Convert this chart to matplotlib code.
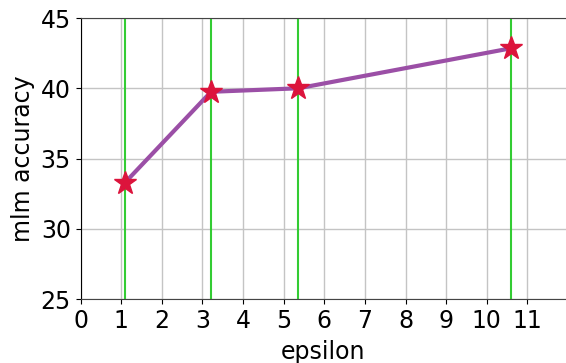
import matplotlib
matplotlib.use('Agg')
from matplotlib import pyplot as plt

epsilon = [1.08, 3.21, 5.36, 10.6]
accuracy = [33.25, 39.75, 40.0, 42.85]
xticks = list(range(0, 12))
yticks = [25, 30, 35, 40, 45]

fig = plt.figure(figsize=(5.66, 3.63), dpi=100)
ax = fig.add_axes([0.1425, 0.1763, 0.8575, 0.774])

ax.grid(True, color='#c4c4c4', linewidth=1.0, zorder=0)
for e in epsilon:
    ax.axvline(e, color='#33cc33', linewidth=1.5, zorder=1)
ax.plot(epsilon, accuracy, color='#9b4fa6', linewidth=3, zorder=2)
ax.plot(epsilon, accuracy, linestyle='none', marker='*', markersize=17,
        color='#dc143c', zorder=3)

ax.set_xlim(0, 11.95)
ax.set_ylim(25, 45)
ax.set_xticks(xticks)
ax.set_yticks(yticks)
ax.tick_params(labelsize=17)
ax.spines['right'].set_visible(False)
ax.spines['top'].set_color('#444444')
ax.spines['bottom'].set_color('#444444')
ax.set_xlabel('epsilon', fontsize=17, labelpad=5)
ax.set_ylabel('mlm accuracy', fontsize=17)
ax.set_axisbelow(True)

plt.savefig('out.png', dpi=100)
plt.close('all')
